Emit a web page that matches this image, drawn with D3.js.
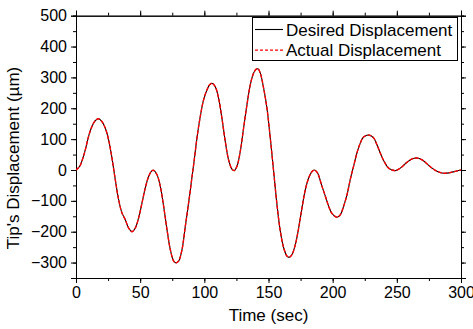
<!DOCTYPE html>
<html>
<head>
<meta charset="utf-8">
<script src="https://cdn.jsdelivr.net/npm/d3@7"></script>
<style>
  html, body { margin: 0; padding: 0; background: #fff; }
  svg { display: block; }
  text { font-family: Arial, "Liberation Sans", sans-serif; fill: #000; }
</style>
</head>
<body>
<script>
const timeSec = [0, 2.9, 5.4, 7.3, 9.8, 12.4, 15.0, 17.6, 20.2, 22.8, 25.4, 28.0, 30.6, 33.2, 35.8, 38.4, 41.0, 43.6, 46.2, 48.8,
  51.4, 54.0, 56.6, 59.2, 60.5, 63.1, 65.7, 68.3, 70.9, 73.5, 76.1, 77.9, 80.0, 82.6, 85.2, 87.8, 89.1, 90.4, 91.7, 93.0,
  94.3, 96.9, 99.4, 102.1, 104.1, 106.0, 108.5, 111.1, 113.7, 116.3, 118.9, 121.5, 123.3, 125.4, 128.0, 130.6, 133.2, 135.8, 138.4, 140.2,
  141.8, 143.6, 146.2, 148.8, 151.4, 154.0, 156.6, 159.2, 161.8, 164.4, 166.2, 168.3, 170.9, 173.5, 176.1, 178.7, 181.3, 183.9, 185.8, 188.0,
  189.1, 191.7, 194.3, 196.9, 199.5, 203.4, 206.0, 208.5, 211.2, 213.7, 216.3, 218.9, 221.5, 224.1, 228.5, 231.9, 234.5, 237.1, 239.7, 243.6,
  248.8, 252.7, 257.9, 261.8, 265.7, 269.6, 273.5, 277.4, 281.3, 285.2, 289.1, 293.0, 296.9, 300];

const desiredDisp = [0, 12, 39, 66, 109, 141, 160, 166, 157, 136, 98, 39, -31, -96, -139, -161, -188, -200, -188, -155,
  -107, -58, -21, -2, -1, -15, -53, -118, -193, -258, -295, -301, -295, -258, -182, -105, -65, -22, 18, 62,
  105, 175, 227, 260, 276, 281, 270, 233, 168, 93, 33, 3, -2, 12, 60, 136, 211, 276, 314, 326,
  328, 314, 265, 200, 103, -4, -112, -198, -252, -279, -283, -274, -242, -188, -123, -64, -26, -5, 0, -8,
  -18, -53, -85, -118, -141, -153, -145, -118, -80, -31, 12, 55, 87, 107, 113, 104, 82, 55, 31, 6,
  -2, 6, 25, 36, 39, 33, 20, 6, -4, -10, -10, -7, -3, 0];

const actualDisp = [0, 12, 39, 66, 109, 141, 160, 166, 157, 136, 98, 39, -31, -96, -139, -161, -188, -200, -188, -155,
  -107, -58, -21, -2, -1, -15, -53, -118, -193, -258, -295, -301, -295, -258, -182, -105, -65, -22, 18, 62,
  105, 175, 227, 260, 276, 281, 270, 233, 168, 93, 33, 3, -2, 12, 60, 136, 211, 276, 314, 326,
  328, 314, 265, 200, 103, -4, -112, -198, -252, -279, -283, -274, -242, -188, -123, -64, -26, -5, 0, -8,
  -18, -53, -85, -118, -141, -153, -145, -118, -80, -31, 12, 55, 87, 107, 113, 104, 82, 55, 31, 6,
  -2, 6, 25, 36, 39, 33, 20, 6, -4, -10, -10, -7, -3, 0];

const xTicks = [0, 50, 100, 150, 200, 250, 300];
const yTicks = [-300, -200, -100, 0, 100, 200, 300, 400, 500];
const seriesNames = ["Desired Displacement", "Actual Displacement"];

const W = 473, H = 329;
const m = { left: 76, right: 12, top: 15.7, bottom: 51 };
const iw = W - m.left - m.right, ih = H - m.top - m.bottom;

const svg = d3.select("body").append("svg").attr("width", W).attr("height", H);
const g = svg.append("g").attr("transform", `translate(${m.left},${m.top})`);

const x = d3.scaleLinear().domain([0, 300]).range([0, iw]);
const y = d3.scaleLinear().domain([-350, 500]).range([ih, 0]);

const minorX = d3.range(0, 301, 25);
const minorY = d3.range(-350, 501, 50);

function styleAxis(sel) {
  sel.select(".domain").attr("stroke", "#000").attr("stroke-width", 1);
  sel.selectAll(".tick line").attr("stroke", "#000").attr("stroke-width", 1);
  sel.selectAll("text").style("font-size", "16px").style("font-family", "Arial, 'Liberation Sans', sans-serif");
}

// minor ticks
g.append("g").attr("transform", `translate(0,${ih})`)
  .call(d3.axisBottom(x).tickValues(minorX).tickSize(3).tickFormat(""))
  .call(styleAxis);
g.append("g")
  .call(d3.axisTop(x).tickValues(minorX).tickSize(3).tickFormat(""))
  .call(styleAxis);
g.append("g")
  .call(d3.axisLeft(y).tickValues(minorY).tickSize(3).tickFormat(""))
  .call(styleAxis);
g.append("g").attr("transform", `translate(${iw},0)`)
  .call(d3.axisRight(y).tickValues(minorY).tickSize(3).tickFormat(""))
  .call(styleAxis);

// major ticks
g.append("g").attr("transform", `translate(0,${ih})`)
  .call(d3.axisBottom(x).tickValues(xTicks).tickSize(5).tickPadding(4).tickFormat(d3.format("d")))
  .call(styleAxis);
g.append("g")
  .call(d3.axisTop(x).tickValues(xTicks).tickSize(5).tickFormat(""))
  .call(styleAxis);
g.append("g")
  .call(d3.axisLeft(y).tickValues(yTicks).tickSize(5).tickPadding(4).tickFormat(d3.format("d")))
  .call(styleAxis);
g.append("g").attr("transform", `translate(${iw},0)`)
  .call(d3.axisRight(y).tickValues(yTicks).tickSize(5).tickFormat(""))
  .call(styleAxis);

// lines
const desiredData = timeSec.map((t, i) => [t, desiredDisp[i]]);
const actualData = timeSec.map((t, i) => [t, actualDisp[i]]);
const line = d3.line().x(d => x(d[0])).y(d => y(d[1])).curve(d3.curveCatmullRom.alpha(0.5));

const clip = g.append("clipPath").attr("id", "clip").append("rect").attr("width", iw).attr("height", ih);
const plot = g.append("g").attr("clip-path", "url(#clip)");
plot.append("path").datum(desiredData).attr("d", line)
  .attr("fill", "none").attr("stroke", "#000").attr("stroke-width", 1.1);
plot.append("path").datum(actualData).attr("d", line)
  .attr("fill", "none").attr("stroke", "#ff0000").attr("stroke-width", 1.4).attr("stroke-dasharray", "4,1.5");

// legend
const lg = svg.append("g");
lg.append("rect").attr("x", 252.5).attr("y", 17.5).attr("width", 205).attr("height", 43)
  .attr("fill", "#fff").attr("stroke", "#000").attr("stroke-width", 1);
const legStyles = [{ c: "#000", d: null, w: 1.1 }, { c: "#ff0000", d: "3,2", w: 1.2 }];
seriesNames.forEach((name, i) => {
  const cy = 29.5 + i * 20.7;
  lg.append("line").attr("x1", 255).attr("x2", 283).attr("y1", cy).attr("y2", cy)
    .attr("stroke", legStyles[i].c).attr("stroke-width", legStyles[i].w)
    .attr("stroke-dasharray", legStyles[i].d);
  lg.append("text").attr("x", 286).attr("y", cy + 6).style("font-size", "17px").text(name);
});

// axis titles
svg.append("text").attr("x", m.left + iw / 2).attr("y", 321).attr("text-anchor", "middle")
  .style("font-size", "17px").text("Time (sec)");
svg.append("text").attr("transform", `translate(19,158) rotate(-90)`).attr("text-anchor", "middle")
  .style("font-size", "17px").text("Tip's Displacement (µm)");
</script>
</body>
</html>
